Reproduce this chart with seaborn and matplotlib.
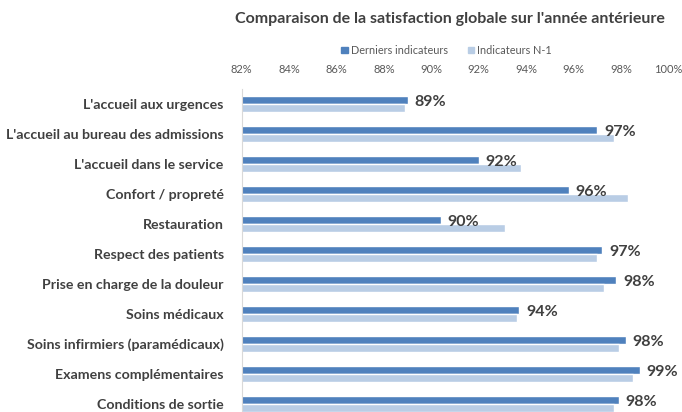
import matplotlib.pyplot as plt
import pandas as pd
import seaborn as sns

categories = [
    "L'accueil aux urgences",
    "L'accueil au bureau des admissions",
    "L'accueil dans le service",
    "Confort / propreté",
    "Restauration",
    "Respect des patients",
    "Prise en charge de la douleur",
    "Soins médicaux",
    "Soins infirmiers (paramédicaux)",
    "Examens complémentaires",
    "Conditions de sortie",
]
latest = [89.0, 97.0, 92.0, 95.8, 90.4, 97.2, 97.8, 93.7, 98.2, 98.8, 97.9]
previous = [88.9, 97.7, 93.8, 98.3, 93.1, 97.0, 97.3, 93.6, 97.9, 98.5, 97.7]
series = ['Derniers indicateurs', 'Indicateurs N-1']
ticks = [82, 84, 86, 88, 90, 92, 94, 96, 98, 100]
colors = ['#4F81BD', '#B9CDE5']

df = pd.DataFrame({
    'Categorie': categories * 2,
    'Valeur': latest + previous,
    'Serie': [series[0]] * len(categories) + [series[1]] * len(categories),
})

sns.set_style('white')
plt.rcParams['font.family'] = ['Lato', 'DejaVu Sans']

fig = plt.figure(figsize=(6.82, 4.12), dpi=100)
ax = fig.add_axes([0.3544, -0.017, 0.6255, 0.801])

sns.barplot(
    data=df, x='Valeur', y='Categorie', hue='Serie', orient='h',
    palette=colors, saturation=1, width=0.52, gap=0, ax=ax,
    legend=False,
)

ax.set_xlim(82, 100)
ax.set_xticks(ticks)
ax.set_xticklabels([f'{t}%' for t in ticks], fontsize=8, color='#595959')
ax.xaxis.tick_top()
ax.tick_params(axis='x', length=0, pad=10)
ax.tick_params(axis='y', length=0, pad=13)
for lab in ax.get_yticklabels():
    lab.set_fontsize(10.2)
    lab.set_fontweight('bold')
    lab.set_color('#404040')
ax.set_xlabel('')
ax.set_ylabel('')
for side in ['top', 'right', 'bottom']:
    ax.spines[side].set_visible(False)
ax.spines['left'].set_color('#D9D9D9')

for i, v in enumerate(latest):
    ax.annotate(f'{v:.0f}%', xy=(v, i - 0.06), xytext=(7, 0),
                textcoords='offset pixels', va='center', ha='left',
                fontsize=11.5, fontweight='bold', color='#404040',
                annotation_clip=False)

fig.text(0.66, 0.955, "Comparaison de la satisfaction globale sur l'année antérieure",
         ha='center', va='center', fontsize=11.5, fontweight='bold', color='#404040')

# legend drawn by hand, Excel style
handles = [plt.Rectangle((0, 0), 1, 1, color=c) for c in colors]
fig.legend(handles, series, loc='center', bbox_to_anchor=(0.655, 0.878), ncol=2,
           frameon=False, fontsize=7.8, labelcolor='#595959',
           handlelength=0.6, handleheight=0.6, handletextpad=0.3, columnspacing=1.8)

plt.savefig('out.png', dpi=100)
